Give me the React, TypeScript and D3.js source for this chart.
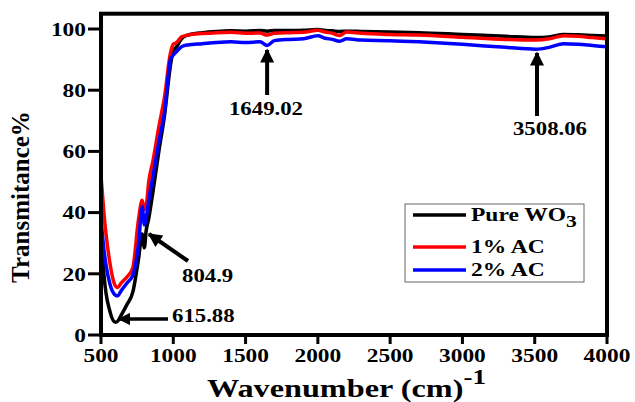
import React from 'react';
import * as d3 from 'd3';

const wavenumbers = [500, 520, 560, 600, 615, 640, 680, 720, 760, 785, 800, 812, 830, 860, 900, 940, 980, 1000, 1020, 1060, 1100, 1200, 1300, 1400, 1500, 1600, 1649, 1700, 1800, 1900, 2000, 2050, 2100, 2150, 2200, 2300, 2500, 2700, 3000, 3300, 3508, 3600, 3700, 3800, 3900, 4000];

const pureWO3 = [36, 20, 8, 4.2, 4.5, 6.5, 10, 14, 25, 33, 28.5, 34, 38, 47, 60, 72, 88, 93, 94, 97, 98, 98.8, 99.2, 99.4, 99.3, 99.5, 99.3, 99.5, 99.5, 99.6, 99.8, 99.5, 99.4, 99.2, 99.3, 99.2, 99.0, 98.8, 98.2, 97.6, 97.2, 97.4, 98.2, 98.1, 97.9, 97.7];
const ac1 = [52, 40, 24, 16, 15.5, 17, 19, 22, 38, 44, 41, 42, 50, 57, 68, 78, 92, 95, 95.5, 97.5, 98, 98.5, 98.8, 98.9, 98.6, 98.7, 98.0, 98.6, 98.8, 98.9, 99.6, 99, 98.6, 97.9, 99, 98.6, 98.2, 98.0, 97.3, 96.6, 96.4, 96.8, 97.8, 97.6, 97.2, 96.8];
const ac2 = [38, 28, 17, 13, 12.8, 14.5, 17, 19.5, 30, 42, 36, 38, 44, 52, 63, 73, 90, 91.5, 92.5, 94.3, 94.8, 95.2, 95.6, 95.8, 95.6, 95.8, 94.6, 96.2, 96.6, 96.8, 97.8, 97.0, 96.6, 96.0, 96.8, 96.4, 96.2, 95.8, 95.0, 94.0, 93.4, 94.0, 95.2, 95.0, 94.6, 94.2];

const seriesNames = ['Pure WO', '1% AC', '2% AC'];
const seriesColors = ['#000000', '#ff0000', '#0000ff'];
const xTicks = [500, 1000, 1500, 2000, 2500, 3000, 3500, 4000];
const yTicks = [0, 20, 40, 60, 80, 100];

const font = 'Liberation Serif';
const SX = 1.2; // text in the picture is a bit wider than the font

function Label({ x, y, anchor = 'start', size, sx = SX, dy, children }: any) {
  return (
    <g transform={`translate(${x},${y}) scale(${sx},1)`}>
      <text textAnchor={anchor} dy={dy} style={{ fontFamily: font, fontWeight: 'bold', fontSize: size }}>{children}</text>
    </g>
  );
}

export default function App() {
  const width = 635, height = 402;
  const x = d3.scaleLinear().domain([500, 4000]).range([101, 607]);
  const y = d3.scaleLinear().domain([0, 105]).range([335, 13.7]);

  const line = d3.line<number>()
    .x((d, i) => x(wavenumbers[i]))
    .y(d => y(d))
    .curve(d3.curveMonotoneX);

  const series = [pureWO3, ac1, ac2];

  return (
    <svg width={width} height={height} style={{ position: 'absolute', left: 0, top: 0, background: '#fff' }}>
      <defs>
        <marker id="ah" viewBox="0 0 10 10" refX="9" refY="5" markerWidth="4.5" markerHeight="3.5" orient="auto">
          <path d="M0,0 L10,5 L0,10 z" fill="#000" />
        </marker>
      </defs>

      {series.map((s, i) => (
        <path key={i} d={line(s) || ''} fill="none" stroke={seriesColors[i]} strokeWidth={3.5} strokeLinejoin="round" />
      ))}

      {/* frame */}
      <rect x={101} y={13.7} width={506} height={321.3} fill="none" stroke="#000" strokeWidth={4} />

      {/* y axis */}
      {yTicks.map(t => (
        <g key={t}>
          <line x1={88} x2={101} y1={y(t)} y2={y(t)} stroke="#000" strokeWidth={3} />
          <Label x={86} y={y(t)} dy="0.35em" anchor="end" size={19.5}>{t}</Label>
        </g>
      ))}

      {/* x axis */}
      {xTicks.map(t => (
        <g key={t}>
          <line x1={x(t)} x2={x(t)} y1={335} y2={344} stroke="#000" strokeWidth={3} />
          <Label x={x(t)} y={362} anchor="middle" size={19.5}>{t}</Label>
        </g>
      ))}

      <text transform="translate(29,197) rotate(-90)" textAnchor="middle" style={{ fontFamily: font, fontWeight: 'bold', fontSize: 25 }}>Transmitance%</text>
      <Label x={207} y={397} size={25} sx={1.29}>
        Wavenumber (cm)<tspan dy={-13} fontSize={21}>-1</tspan>
      </Label>

      {/* annotations */}
      <line x1={x(1649)} x2={x(1649)} y1={95} y2={50} stroke="#000" strokeWidth={4} markerEnd="url(#ah)" />
      <Label x={266} y={115} anchor="middle" size={19}>1649.02</Label>
      <line x1={537} x2={537} y1={116} y2={53} stroke="#000" strokeWidth={4} markerEnd="url(#ah)" />
      <Label x={550} y={135} anchor="middle" size={19}>3508.06</Label>
      <line x1={188} x2={149} y1={261} y2={234} stroke="#000" strokeWidth={4} markerEnd="url(#ah)" />
      <Label x={182} y={282} size={19}>804.9</Label>
      <line x1={168} x2={119} y1={319} y2={319} stroke="#000" strokeWidth={3.5} markerEnd="url(#ah)" />
      <Label x={172} y={322} size={19}>615.88</Label>

      {/* legend */}
      <rect x={405} y={204} width={179} height={78} fill="#fff" stroke="#666" strokeWidth={1} />
      {seriesNames.map((n, i) => {
        const ly = [215, 247, 270][i];
        return (
          <g key={n}>
            <line x1={413} x2={466} y1={ly} y2={ly} stroke={seriesColors[i]} strokeWidth={3.5} />
            <Label x={471} y={ly} dy="0.35em" size={18.5} sx={1.27}>
              {n}{i === 0 ? <tspan dy={6} fontSize={17}>3</tspan> : null}
            </Label>
          </g>
        );
      })}
    </svg>
  );
}
